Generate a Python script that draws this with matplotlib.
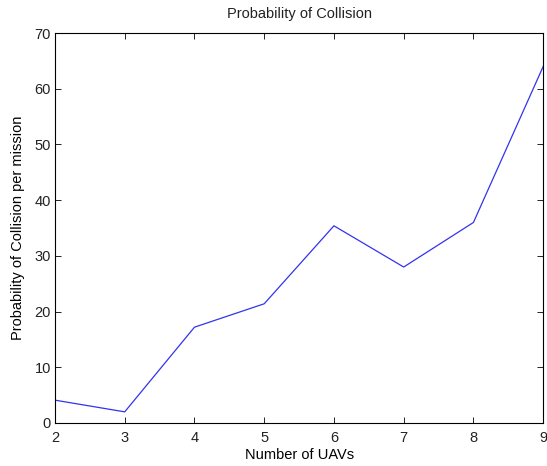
import matplotlib
matplotlib.use('Agg')
from matplotlib import pyplot as plt

uavs = [2, 3, 4, 5, 6, 7, 8, 9]
prob = [4.1, 2.0, 17.2, 21.4, 35.4, 28.0, 36.0, 64.0]

plt.rcParams['font.family'] = ['Liberation Sans', 'DejaVu Sans']
plt.rcParams['font.size'] = 10.5
plt.rcParams['text.color'] = '#222222'

fig = plt.figure(figsize=(5.47, 4.66), dpi=100)
ax = fig.add_axes([0.1005, 0.0923, 0.8925, 0.8367])
ax.plot(uavs, prob, color='#3333ee', linewidth=0.9)
ax.set_xlim(2, 9)
ax.set_ylim(0, 70)
ax.set_xticks(range(2, 10))
ax.set_yticks(range(0, 71, 10))
ax.tick_params(direction='in', top=True, right=True, length=4, width=0.6,
               labelcolor='#222222')
ax.tick_params(axis='x', pad=6)
ax.tick_params(axis='y', pad=3)
for s in ax.spines.values():
    s.set_linewidth(0.8)
ax.set_title('Probability of Collision', fontsize=10.5, pad=11)
ax.set_xlabel('Number of UAVs', labelpad=2)
ax.set_ylabel('Probability of Collision per mission', labelpad=7)
fig.savefig('out.png', dpi=100)
